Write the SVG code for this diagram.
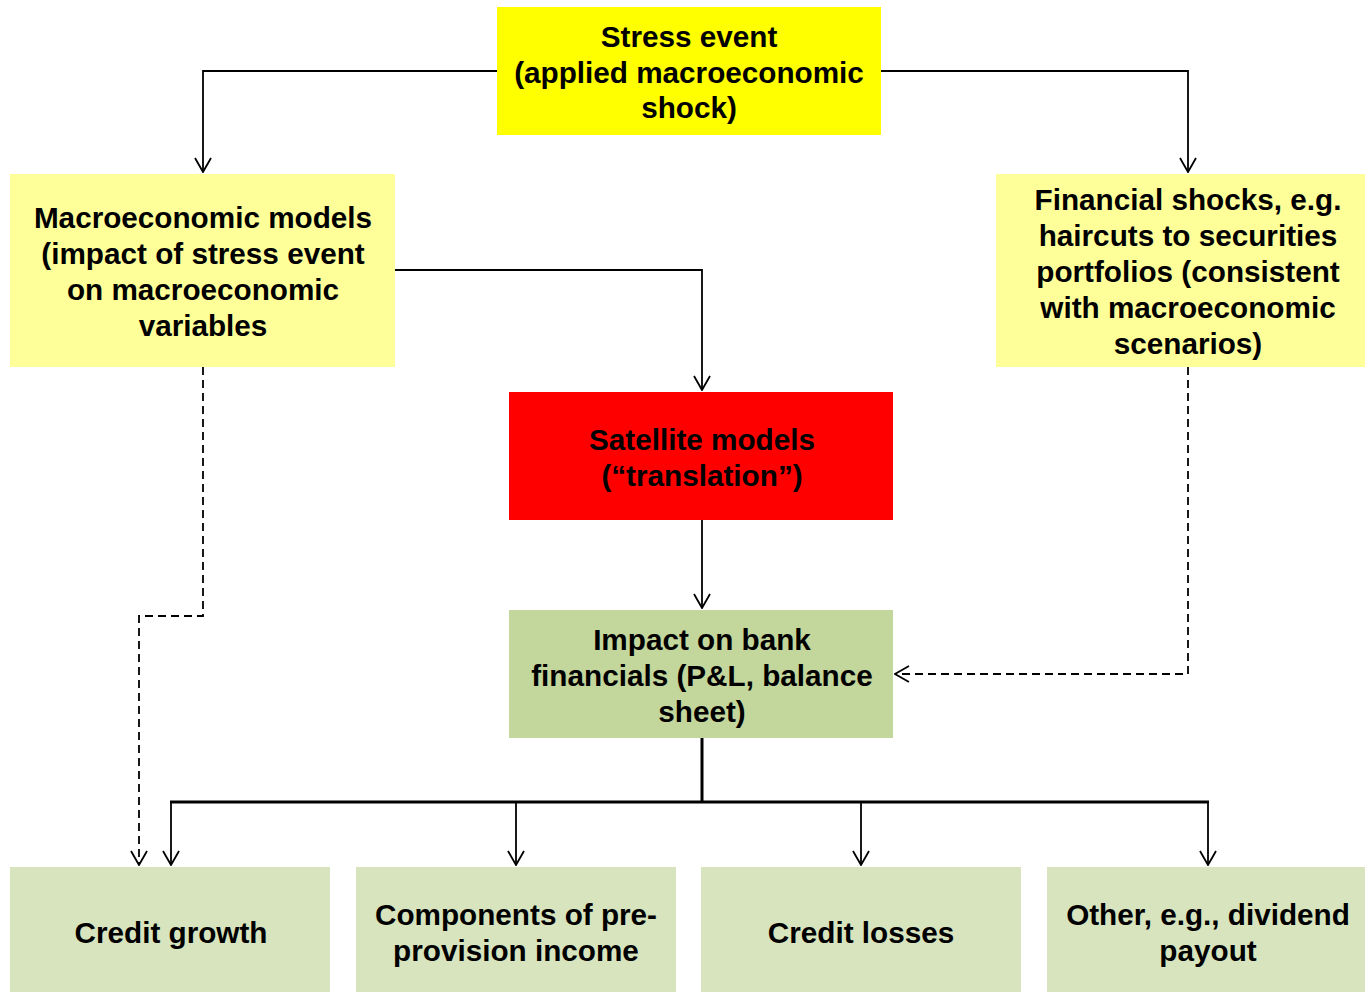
<svg xmlns="http://www.w3.org/2000/svg" width="1365" height="992" viewBox="0 0 1365 992">
  <style>
    text { font-family: "Liberation Sans", Arial, sans-serif; font-weight: bold; font-size: 29.7px; fill: #000; text-anchor: middle; }
    .link { fill: none; stroke: #000; stroke-width: 1.8; }
    .dash { stroke-dasharray: 8 5; }
    .trunk { stroke-width: 3; }
  </style>
  <defs>
    <marker id="vee" viewBox="0 0 16 18" refX="15" refY="9" markerWidth="16" markerHeight="18" markerUnits="userSpaceOnUse" orient="auto">
      <path d="M1,1 L15,9 L1,17" fill="none" stroke="#000" stroke-width="1.8"/>
    </marker>
  </defs>
  <rect width="1365" height="992" fill="#fff"/>

  <g id="connectors">
    <path class="link" d="M497,71 H203 V172" marker-end="url(#vee)"/>
    <path class="link" d="M881,71 H1188 V172" marker-end="url(#vee)"/>
    <path class="link" d="M395,270 H702 V390" marker-end="url(#vee)"/>
    <path class="link" d="M702,520 V608" marker-end="url(#vee)"/>
    <path class="link trunk" d="M702,738 V802"/>
    <path class="link trunk" d="M170,802 H1209"/>
    <path class="link" d="M171,802 V865" marker-end="url(#vee)"/>
    <path class="link" d="M516,802 V865" marker-end="url(#vee)"/>
    <path class="link" d="M861,802 V865" marker-end="url(#vee)"/>
    <path class="link" d="M1208,802 V865" marker-end="url(#vee)"/>
    <path class="link dash" d="M203,367 V616 H139 V865" marker-end="url(#vee)"/>
    <path class="link dash" d="M1188,367 V674 H895" marker-end="url(#vee)"/>
  </g>

  <g id="stress-event">
    <rect x="497" y="7" width="384" height="128" fill="#FFFF00"/>
    <text x="689" y="47">Stress event</text>
    <text x="689" y="83">(applied macroeconomic</text>
    <text x="689" y="118">shock)</text>
  </g>

  <g id="macro-models">
    <rect x="10" y="174" width="385" height="193" fill="#FFFF99"/>
    <text x="203" y="228">Macroeconomic models</text>
    <text x="203" y="264">(impact of stress event</text>
    <text x="203" y="300">on macroeconomic</text>
    <text x="203" y="336">variables</text>
  </g>

  <g id="financial-shocks">
    <rect x="996" y="174" width="369" height="193" fill="#FFFF99"/>
    <text x="1188" y="210">Financial shocks, e.g.</text>
    <text x="1188" y="246">haircuts to securities</text>
    <text x="1188" y="282">portfolios (consistent</text>
    <text x="1188" y="318">with macroeconomic</text>
    <text x="1188" y="354">scenarios)</text>
  </g>

  <g id="satellite-models">
    <rect x="509" y="392" width="384" height="128" fill="#FF0000"/>
    <text x="702" y="450">Satellite models</text>
    <text x="702" y="486">(“translation”)</text>
  </g>

  <g id="bank-impact">
    <rect x="509" y="610" width="384" height="128" fill="#C3D69B"/>
    <text x="702" y="650">Impact on bank</text>
    <text x="702" y="686">financials (P&amp;L, balance</text>
    <text x="702" y="722">sheet)</text>
  </g>

  <g id="credit-growth">
    <rect x="10" y="867" width="320" height="125" fill="#D7E4BD"/>
    <text x="171" y="943">Credit growth</text>
  </g>

  <g id="ppi-components">
    <rect x="356" y="867" width="320" height="125" fill="#D7E4BD"/>
    <text x="516" y="925">Components of pre-</text>
    <text x="516" y="961">provision income</text>
  </g>

  <g id="credit-losses">
    <rect x="701" y="867" width="320" height="125" fill="#D7E4BD"/>
    <text x="861" y="943">Credit losses</text>
  </g>

  <g id="other">
    <rect x="1047" y="867" width="318" height="125" fill="#D7E4BD"/>
    <text x="1208" y="925">Other, e.g., dividend</text>
    <text x="1208" y="961">payout</text>
  </g>
</svg>
